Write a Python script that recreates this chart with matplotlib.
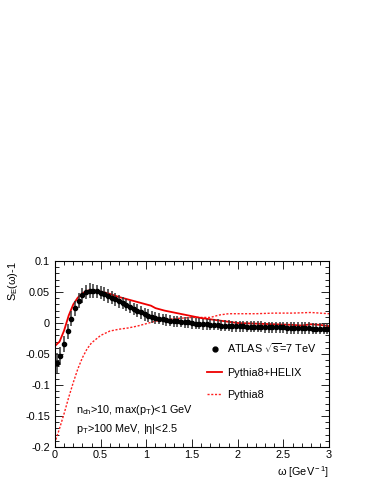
import matplotlib
matplotlib.use('Agg')
import matplotlib.pyplot as plt
from matplotlib.lines import Line2D
from matplotlib.ticker import MultipleLocator

plt.rcParams['font.family'] = ['Liberation Sans', 'DejaVu Sans']
plt.rcParams['mathtext.fontset'] = 'custom'
plt.rcParams['mathtext.rm'] = 'Liberation Sans'
plt.rcParams['mathtext.it'] = 'Liberation Sans:italic'

# ATLAS data, omega bin centres [GeV^-1]
atlas_x = [0.02, 0.06, 0.10, 0.14, 0.18, 0.22, 0.26, 0.30, 0.34, 0.38,
           0.42, 0.46, 0.50, 0.54, 0.58, 0.62, 0.66, 0.70, 0.74, 0.78,
           0.82, 0.86, 0.90, 0.94, 0.98, 1.02, 1.06, 1.10, 1.14, 1.18,
           1.22, 1.26, 1.30, 1.34, 1.38, 1.42, 1.46, 1.50, 1.54, 1.58,
           1.62, 1.66, 1.70, 1.74, 1.78, 1.82, 1.86, 1.90, 1.94, 1.98,
           2.02, 2.06, 2.10, 2.14, 2.18, 2.22, 2.26, 2.30, 2.34, 2.38,
           2.42, 2.46, 2.50, 2.54, 2.58, 2.62, 2.66, 2.70, 2.74, 2.78,
           2.82, 2.86, 2.90, 2.94, 2.98]
atlas_y = [-0.065, -0.053, -0.034, -0.013, 0.007, 0.024, 0.036, 0.045, 0.050, 0.052,
           0.052, 0.051, 0.049, 0.047, 0.044, 0.041, 0.038, 0.035, 0.032, 0.029,
           0.026, 0.023, 0.020, 0.017, 0.014, 0.012, 0.010, 0.008, 0.007, 0.006,
           0.005, 0.004, 0.003, 0.003, 0.002, 0.001, 0.001, 0.000, -0.001, -0.001,
           -0.002, -0.002, -0.003, -0.003, -0.003, -0.004, -0.004, -0.004, -0.005, -0.005,
           -0.005, -0.005, -0.006, -0.006, -0.006, -0.006, -0.006, -0.007, -0.007, -0.007,
           -0.007, -0.007, -0.007, -0.008, -0.008, -0.008, -0.008, -0.008, -0.008, -0.008,
           -0.009, -0.009, -0.009, -0.009, -0.009]
atlas_err = [0.016, 0.014, 0.013, 0.012, 0.012, 0.012, 0.012, 0.012, 0.012, 0.012,
             0.011, 0.011, 0.011, 0.011, 0.011, 0.011, 0.011, 0.011, 0.010, 0.010,
             0.010, 0.010, 0.010, 0.010, 0.010, 0.010, 0.010, 0.010, 0.009, 0.009,
             0.009, 0.009, 0.009, 0.009, 0.009, 0.009, 0.009, 0.009, 0.009, 0.009,
             0.009, 0.009, 0.009, 0.009, 0.009, 0.009, 0.009, 0.009, 0.009, 0.009,
             0.009, 0.009, 0.009, 0.009, 0.009, 0.009, 0.009, 0.009, 0.009, 0.009,
             0.009, 0.009, 0.009, 0.009, 0.009, 0.009, 0.009, 0.009, 0.009, 0.009,
             0.009, 0.009, 0.009, 0.009, 0.009]

# Pythia8+HELIX
helix_x = [0.0, 0.05, 0.10, 0.15, 0.20, 0.25, 0.30, 0.35, 0.40, 0.45, 0.50, 0.60,
           0.70, 0.80, 0.90, 1.00, 1.05, 1.10, 1.20, 1.30, 1.40, 1.50, 1.60, 1.70,
           1.80, 1.90, 2.00, 2.20, 2.40, 2.60, 2.70, 2.80, 2.90, 3.00]
helix_y = [-0.037, -0.030, -0.012, 0.012, 0.030, 0.041, 0.048, 0.052, 0.053, 0.052,
           0.051, 0.047, 0.042, 0.038, 0.034, 0.030, 0.028, 0.024, 0.020, 0.017,
           0.014, 0.011, 0.008, 0.006, 0.004, 0.002, 0.000, -0.001, -0.002, -0.003,
           -0.004, -0.002, -0.003, -0.005]

# Pythia8
py8_x = [0.01, 0.05, 0.10, 0.15, 0.20, 0.25, 0.30, 0.35, 0.40, 0.50, 0.60, 0.70,
         0.80, 0.90, 1.00, 1.10, 1.20, 1.30, 1.40, 1.50, 1.60, 1.70, 1.80, 1.90,
         2.00, 2.20, 2.40, 2.60, 2.80, 2.90, 3.00]
py8_y = [-0.188, -0.170, -0.146, -0.120, -0.096, -0.074, -0.056, -0.042, -0.032,
         -0.020, -0.013, -0.010, -0.008, -0.005, -0.001, 0.003, 0.005, 0.007,
         0.008, 0.009, 0.009, 0.009, 0.013, 0.015, 0.015, 0.015, 0.016, 0.016,
         0.017, 0.016, 0.015]

fs = 7.8

fig = plt.figure(figsize=(3.74, 4.84), dpi=100)
ax = fig.add_axes([0.147, 0.0764, 0.733, 0.3843])

ax.plot(py8_x, py8_y, color='#ff2020', ls=(0, (1.5, 1.2)), lw=1.0)
ax.plot(helix_x, helix_y, color='#ee0000', lw=1.3)
ax.errorbar(atlas_x, atlas_y, yerr=atlas_err, fmt='o', color='black', ms=3.0,
            ecolor='#333333', elinewidth=1.1, capsize=0)

ax.set_xlim(0, 3)
ax.set_ylim(-0.2, 0.1)
ax.xaxis.set_major_locator(MultipleLocator(0.5))
ax.xaxis.set_minor_locator(MultipleLocator(0.1))
ax.yaxis.set_major_locator(MultipleLocator(0.05))
ax.yaxis.set_minor_locator(MultipleLocator(0.01))
ax.tick_params(which='both', direction='in', top=True, right=True, labelsize=fs, width=0.6)
ax.tick_params(which='major', length=6)
ax.tick_params(which='minor', length=3)
ax.tick_params(axis='x', pad=2)
ax.set_yticks([0.1, 0.05, 0, -0.05, -0.1, -0.15, -0.2])
ax.set_yticklabels(['0.1', '0.05', '0', '-0.05', '-0.1', '-0.15', '-0.2'])
ax.set_xticks([0, 0.5, 1, 1.5, 2, 2.5, 3])
ax.set_xticklabels(['0', '0.5', '1', '1.5', '2', '2.5', '3'])
for s in ax.spines.values():
    s.set_linewidth(0.8)

ax.set_ylabel(r'S$_{\rm E}$(ω)-1', fontsize=fs, loc='top', labelpad=4)
ax.set_xlabel(r'ω [GeV$^{\rm -1}$]', fontsize=fs, loc='right', labelpad=3)

handles = [Line2D([], [], marker='o', color='black', ls='none', ms=3.5),
           Line2D([], [], color='#ee0000', lw=1.3),
           Line2D([], [], color='#ff2020', ls=(0, (1.5, 1.2)), lw=1.0)]
labels = [r'ATLAS $\sqrt{\rm s}$=7 TeV', 'Pythia8+HELIX', 'Pythia8']
ax.legend(handles, labels, loc='upper left', bbox_to_anchor=(0.52, 0.62),
          frameon=False, fontsize=fs, handlelength=1.4, handletextpad=0.4,
          labelspacing=1.15)

ax.text(0.075, 0.2, r'n$_{\rm ch}$>10, max(p$_{\rm T}$)<1 GeV', transform=ax.transAxes,
        fontsize=fs, va='center')
ax.text(0.075, 0.095, r'p$_{\rm T}$>100 MeV, |η|<2.5', transform=ax.transAxes,
        fontsize=fs, va='center')

fig.savefig('out.png', dpi=100)
